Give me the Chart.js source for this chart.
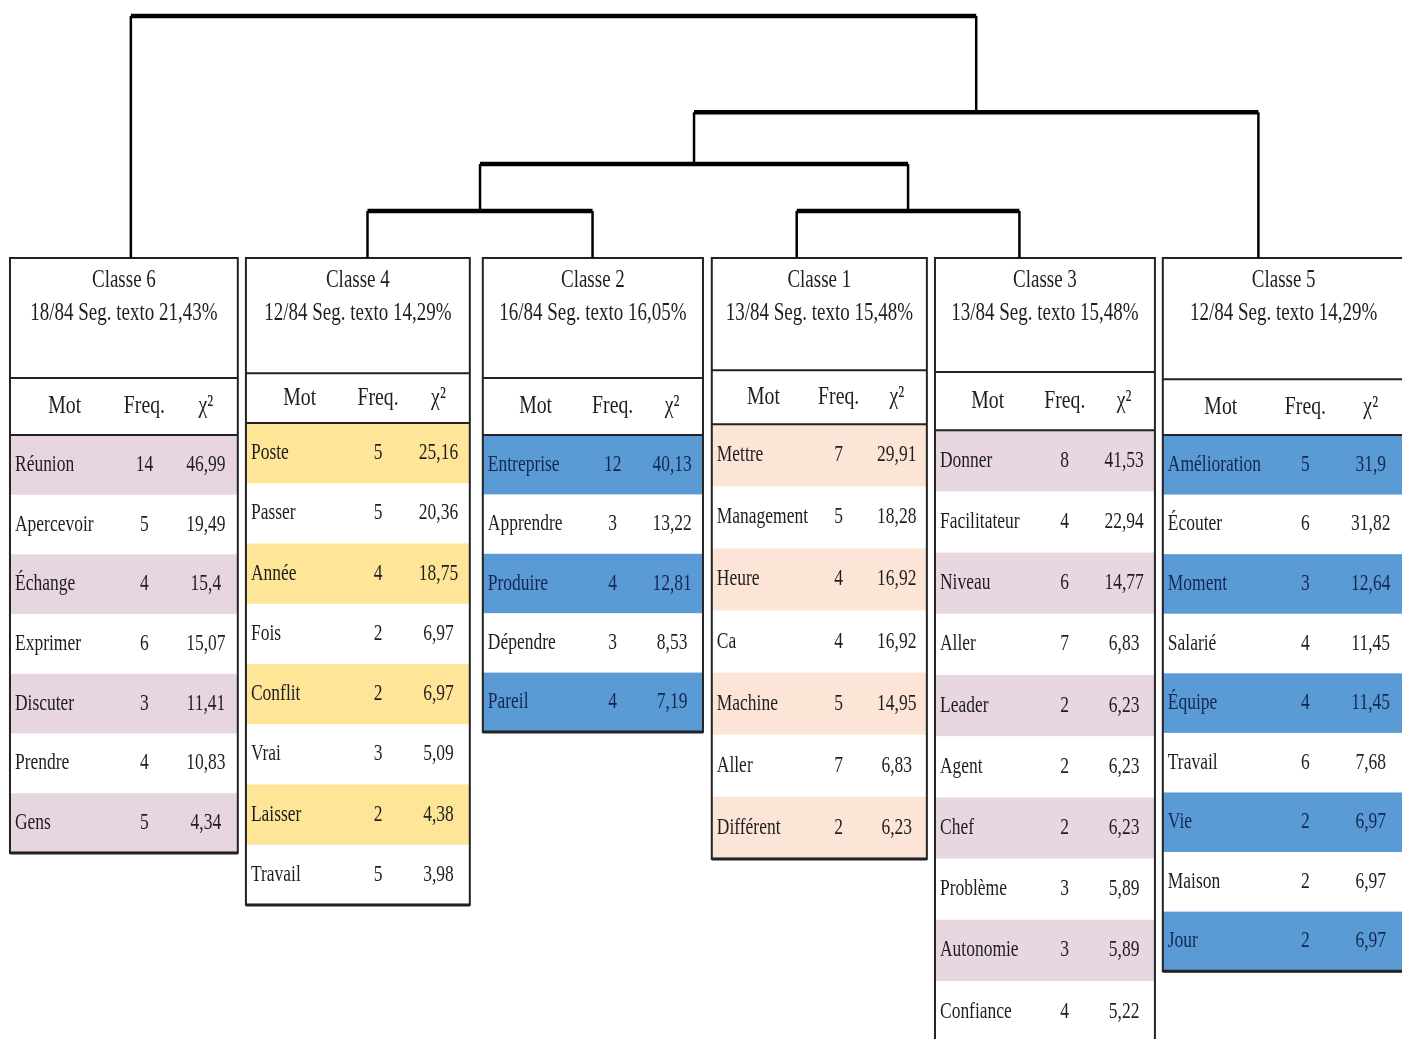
<!DOCTYPE html>
<html lang="fr">
<head>
<meta charset="utf-8">
<title>Dendrogramme des classes</title>
<script src="https://cdn.jsdelivr.net/npm/chart.js@4.4.1/dist/chart.umd.min.js"></script>
<style>
  html, body { margin: 0; padding: 0; background: #fff; }
  #contenedor { width: 1402px; height: 1039px; position: relative; }
</style>
</head>
<body>
<div id="contenedor"><canvas id="grafico"></canvas></div>
<script>
// Clases en el orden del dendrograma (de izquierda a derecha)
const clases = ['Classe 6', 'Classe 4', 'Classe 2', 'Classe 1', 'Classe 3', 'Classe 5'];
const segmentos = ['18/84 Seg. texto 21,43%', '12/84 Seg. texto 14,29%', '16/84 Seg. texto 16,05%',
                   '13/84 Seg. texto 15,48%', '13/84 Seg. texto 15,48%', '12/84 Seg. texto 14,29%'];
const columnas = ['Mot', 'Freq.', 'χ²'];

// Palabras, frecuencias y chi2 de cada clase
const motsC6 = ['Réunion', 'Apercevoir', 'Échange', 'Exprimer', 'Discuter', 'Prendre', 'Gens'];
const freqC6 = [14, 5, 4, 6, 3, 4, 5];
const chi2C6 = [46.99, 19.49, 15.4, 15.07, 11.41, 10.83, 4.34];

const motsC4 = ['Poste', 'Passer', 'Année', 'Fois', 'Conflit', 'Vrai', 'Laisser', 'Travail'];
const freqC4 = [5, 5, 4, 2, 2, 3, 2, 5];
const chi2C4 = [25.16, 20.36, 18.75, 6.97, 6.97, 5.09, 4.38, 3.98];

const motsC2 = ['Entreprise', 'Apprendre', 'Produire', 'Dépendre', 'Pareil'];
const freqC2 = [12, 3, 4, 3, 4];
const chi2C2 = [40.13, 13.22, 12.81, 8.53, 7.19];

const motsC1 = ['Mettre', 'Management', 'Heure', 'Ca', 'Machine', 'Aller', 'Différent'];
const freqC1 = [7, 5, 4, 4, 5, 7, 2];
const chi2C1 = [29.91, 18.28, 16.92, 16.92, 14.95, 6.83, 6.23];

const motsC3 = ['Donner', 'Facilitateur', 'Niveau', 'Aller', 'Leader', 'Agent', 'Chef', 'Problème', 'Autonomie', 'Confiance'];
const freqC3 = [8, 4, 6, 7, 2, 2, 2, 3, 3, 4];
const chi2C3 = [41.53, 22.94, 14.77, 6.83, 6.23, 6.23, 6.23, 5.89, 5.89, 5.22];

const motsC5 = ['Amélioration', 'Écouter', 'Moment', 'Salarié', 'Équipe', 'Travail', 'Vie', 'Maison', 'Jour'];
const freqC5 = [5, 6, 3, 4, 4, 6, 2, 2, 2];
const chi2C5 = [31.9, 31.82, 12.64, 11.45, 11.45, 7.68, 6.97, 6.97, 6.97];

// Fusiones del dendrograma: hojas 0..5, nodos nuevos 6..10
const fusiones = [[1, 2], [3, 4], [6, 7], [8, 5], [0, 9]];
const alturas = [1, 1, 2, 3.1, 5.15];

// ---- Estilo y disposición (no son datos) ----
const colores = ['#e7d5e0', '#ffe597', '#5b9bd5', '#fce4d6', '#e8d6e1', '#5b9bd5'];
const colorTexto = ['#1e1e1e', '#1e1e1e', '#142754', '#1e1e1e', '#1e1e1e', '#142754'];
const desplHoja = [0.03, 0.05, 0.02, -0.10, -0.14, -0.11];   // donde baja la rama sobre cada tabla
const bordeIzq = [-0.491, -0.474, -0.453, -0.466, -0.504, -0.522];
const bordeDer = [0.491, 0.491, 0.496, 0.461, 0.444, 0.52];
const finCabecera = [2.0, 1.92, 2.0, 1.87, 1.9, 2.02];
const finColumnas = [2.95, 2.75, 2.95, 2.77, 2.87, 2.95];
const altoFila = [0.995, 1.004, 0.99, 1.035, 1.02, 0.993];
const fuente = '"Liberation Serif", "Times New Roman", serif';

const tablas = [
  { mots: motsC6, freq: freqC6, chi2: chi2C6 },
  { mots: motsC4, freq: freqC4, chi2: chi2C4 },
  { mots: motsC2, freq: freqC2, chi2: chi2C2 },
  { mots: motsC1, freq: freqC1, chi2: chi2C1 },
  { mots: motsC3, freq: freqC3, chi2: chi2C3 },
  { mots: motsC5, freq: freqC5, chi2: chi2C5 }
];

// Segmentos del dendrograma a partir de las fusiones
function linea(puntos, grosor) {
  return {
    data: puntos, showLine: true, borderColor: '#000', borderWidth: grosor,
    pointRadius: 0, tension: 0, xAxisID: 'x', yAxisID: 'y'
  };
}
const posX = clases.map((c, i) => i + desplHoja[i]);
const posY = clases.map(() => 0);
const datasets = [];
fusiones.forEach(([a, b], k) => {
  const h = alturas[k];
  datasets.push(linea([{ x: posX[a], y: posY[a] }, { x: posX[a], y: h }], 2.5));
  datasets.push(linea([{ x: posX[b], y: posY[b] }, { x: posX[b], y: h }], 2.5));
  datasets.push(linea([{ x: posX[a], y: h }, { x: posX[b], y: h }], 4.5));
  posX.push((posX[a] + posX[b]) / 2);
  posY.push(h);
});

// Texto estrecho como en la figura original
function texto(ctx, txt, x, y, tam, align, color) {
  ctx.save();
  ctx.translate(x, y);
  ctx.scale(0.76, 1);
  ctx.font = tam + 'px ' + fuente;
  ctx.textAlign = align;
  ctx.textBaseline = 'middle';
  ctx.fillStyle = color;
  ctx.fillText(txt, 0, 0);
  ctx.restore();
}
const coma = v => String(v).replace('.', ',');

// Plugin que dibuja las tablas usando las escalas del gráfico
const pluginTablas = {
  id: 'tablas',
  beforeDatasetsDraw(chart) {
    const ctx = chart.ctx;
    const sx = chart.scales.x, sy = chart.scales.yt;
    tablas.forEach((t, i) => {
      const izq = sx.getPixelForValue(i + bordeIzq[i]);
      const der = sx.getPixelForValue(i + bordeDer[i]);
      const ancho = der - izq;
      const arriba = sy.getPixelForValue(0);
      const cab = sy.getPixelForValue(finCabecera[i]);
      const col = sy.getPixelForValue(finColumnas[i]);
      const abajo = sy.getPixelForValue(finColumnas[i] + t.mots.length * altoFila[i]);

      ctx.fillStyle = '#fff';
      ctx.fillRect(izq, arriba, ancho, abajo - arriba);

      // Filas alternas coloreadas
      t.mots.forEach((m, r) => {
        const y0 = sy.getPixelForValue(finColumnas[i] + r * altoFila[i]);
        const y1 = sy.getPixelForValue(finColumnas[i] + (r + 1) * altoFila[i]);
        if (r % 2 === 0) {
          ctx.fillStyle = colores[i];
          ctx.fillRect(izq, y0, ancho, y1 - y0);
        }
        const yc = (y0 + y1) / 2;
        const c = r % 2 === 0 ? colorTexto[i] : '#1e1e1e';
        texto(ctx, m, izq + 5, yc, 23, 'left', c);
        texto(ctx, String(t.freq[r]), izq + ancho * 0.59, yc, 23, 'center', c);
        texto(ctx, coma(t.chi2[r]), izq + ancho * 0.86, yc, 23, 'center', c);
      });

      // Cabecera
      texto(ctx, clases[i], (izq + der) / 2, sy.getPixelForValue(0.38), 25, 'center', '#1e1e1e');
      texto(ctx, segmentos[i], (izq + der) / 2, sy.getPixelForValue(0.93), 25, 'center', '#1e1e1e');
      const ycol = (cab + col) / 2;
      texto(ctx, columnas[0], izq + ancho * 0.24, ycol, 26, 'center', '#1e1e1e');
      texto(ctx, columnas[1], izq + ancho * 0.59, ycol, 26, 'center', '#1e1e1e');
      texto(ctx, columnas[2], izq + ancho * 0.86, ycol, 26, 'center', '#1e1e1e');

      // Bordes
      ctx.strokeStyle = '#222';
      ctx.lineWidth = 2;
      ctx.strokeRect(izq, arriba, ancho, abajo - arriba);
      ctx.beginPath();
      ctx.moveTo(izq, cab); ctx.lineTo(der, cab);
      ctx.moveTo(izq, col); ctx.lineTo(der, col);
      ctx.stroke();
      ctx.lineWidth = 3;
      ctx.beginPath();
      ctx.moveTo(izq, abajo); ctx.lineTo(der, abajo);
      ctx.stroke();
    });
  }
};

window.chart = new Chart(document.getElementById('grafico').getContext('2d'), {
  type: 'scatter',
  data: { datasets: datasets },
  options: {
    responsive: true,
    maintainAspectRatio: false,
    animation: false,
    devicePixelRatio: 1,
    layout: { padding: 0 },
    plugins: { legend: { display: false }, tooltip: { enabled: false }, title: { display: false } },
    scales: {
      x: { type: 'linear', min: -0.534, max: 5.509, display: false },
      y: { type: 'linear', min: -16.62, max: 5.49, display: false },
      yt: { type: 'linear', reverse: true, min: -4.3, max: 13.017, display: false }
    }
  },
  plugins: [pluginTablas]
});
</script>
</body>
</html>
